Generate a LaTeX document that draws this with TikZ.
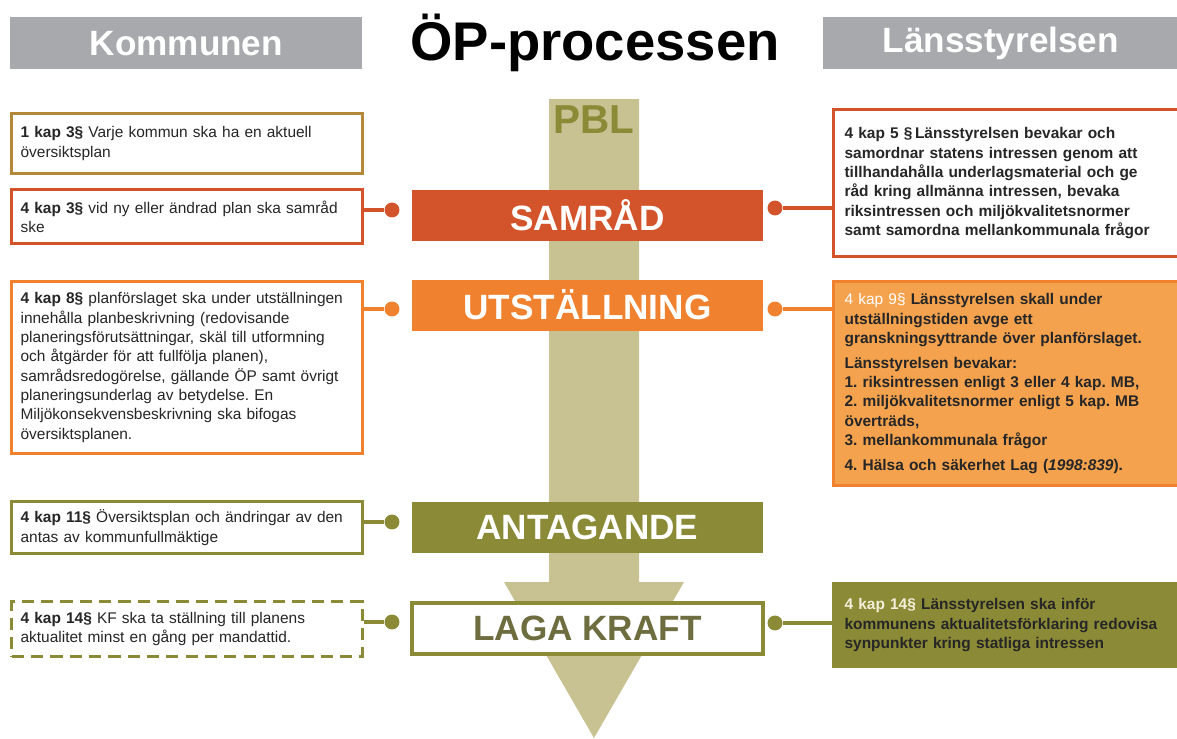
\documentclass[tikz,border=0pt]{standalone}
\usepackage{fontspec}
\setmainfont{Liberation Sans}
\frenchspacing
\usetikzlibrary{positioning}
\definecolor{greyhead}{HTML}{A7A9AC}
\definecolor{samradred}{HTML}{D3542B}
\definecolor{utstorange}{HTML}{F0812F}
\definecolor{utstlight}{HTML}{F4A24E}
\definecolor{olive}{HTML}{8B8A36}
\definecolor{olivedark}{HTML}{6E6D40}
\definecolor{khaki}{HTML}{C8C192}
\definecolor{gold}{HTML}{B38939}
\definecolor{cream}{HTML}{F3EFD8}
\definecolor{bodytext}{HTML}{262626}
\tikzset{head/.style = {fill=greyhead, text=white, font=\bfseries\fontsize{20}{24}\selectfont,
                        minimum height=1.04cm, anchor=north west}}
\tikzset{stage/.style = {text=white, font=\bfseries\fontsize{20}{24}\selectfont,
                         minimum width=7.02cm, minimum height=1.02cm}}
\tikzset{lawbox/.style = {draw, line width=1.8pt, fill=white, text=bodytext, align=left,
                          text width=6.66cm, inner xsep=0.18cm, anchor=north west,
                          font=\fontsize{8.8}{11}\selectfont}}
\tikzset{lanbox/.style = {draw, line width=1.8pt, align=left, text=bodytext,
                          text width=7cm, inner xsep=0.22cm, anchor=north west,
                          font=\bfseries\fontsize{8.8}{11}\selectfont}}
\tikzset{dot/.style = {fill, circle, inner sep = 0, minimum size = 8.5}}
\tikzset{link/.style = {line width = 2pt}}

\begin{document}
\begin{tikzpicture}[x=0.02cm, y=-0.02cm]
    \path[use as bounding box, clip] (0, 0) rectangle (1177, 738);

    % headers
    \node [head, minimum width=7.04cm] (kommunen) at (10, 17) {Kommunen};
    \node [head, minimum width=7.1cm] (lansst) at (823, 17) {Länsstyrelsen};
    \node [font=\bfseries\fontsize{31}{36}\selectfont] (title) at (595, 43) {ÖP-processen};

    % PBL arrow
    \fill [khaki] (549, 99) -- (639, 99) -- (639, 582) -- (684, 582) -- (594, 738)
                  -- (504, 582) -- (549, 582) -- cycle;
    \node [text=olive, font=\bfseries\fontsize{23}{26}\selectfont] (pbl) at (594, 120) {PBL};

    % stages
    \node [stage, fill=samradred] (samrad) at (587.5, 215.5) {SAMRÅD};
    \node [stage, fill=utstorange] (utst) at (587.5, 305) {UTSTÄLLNING};
    \node [stage, fill=olive] (antag) at (587.5, 527) {ANTAGANDE};
    \node [stage, draw=olive, line width=2.2pt, fill=white, text=olivedark] (laga) at (587.5, 628.5) {LAGA KRAFT};

    % kommunen
    \node [lawbox, draw=gold, minimum height=1.2cm] (kom1) at (10, 112)
      {\textbf{1 kap 3§} Varje kommun ska ha en aktuell\\ översiktsplan};
    \node [lawbox, draw=samradred, minimum height=1.08cm] (kom2) at (10, 188)
      {\textbf{4 kap 3§} vid ny eller ändrad plan ska samråd\\ ske};
    \node [lawbox, draw=utstorange, minimum height=3.44cm] (kom3) at (10, 280)
      {\textbf{4 kap 8§} planförslaget ska under utställningen\\
       innehålla planbeskrivning (redovisande\\
       planeringsförutsättningar, skäl till utformning\\
       och åtgärder för att fullfölja planen),\\
       samrådsredogörelse, gällande ÖP samt övrigt\\
       planeringsunderlag av betydelse. En\\
       Miljökonsekvensbeskrivning ska bifogas\\
       översiktsplanen.};
    \node [lawbox, draw=olive, minimum height=1.04cm] (kom4) at (10, 500)
      {\textbf{4 kap 11§} Översiktsplan och ändringar av den\\ antas av kommunfullmäktige};
    \node [lawbox, draw=olive, dash pattern=on 7pt off 4pt, minimum height=1.1cm] (kom5) at (10, 600)
      {\textbf{4 kap 14§} KF ska ta ställning till planens\\ aktualitet minst en gång per mandattid.};

    % länsstyrelsen
    \node [lanbox, draw=samradred, fill=white, minimum height=2.94cm] (lan1) at (832, 108)
      {4 kap 5 §\,Länsstyrelsen bevakar och\\
       samordnar statens intressen genom att\\
       tillhandahålla underlagsmaterial och ge\\
       råd kring allmänna intressen, bevaka\\
       riksintressen och miljökvalitetsnormer\\
       samt samordna mellankommunala frågor};
    \node [lanbox, draw=utstorange, fill=utstlight, minimum height=4.08cm] (lan2) at (832, 280)
      {{\mdseries\color{white}4 kap 9§} Länsstyrelsen skall under\\
       utställningstiden avge ett\\
       granskningsyttrande över planförslaget.\\[3pt]
       Länsstyrelsen bevakar:\\
       1. riksintressen enligt 3 eller 4 kap. MB,\\
       2. miljökvalitetsnormer enligt 5 kap. MB\\
       överträds,\\
       3. mellankommunala frågor\\[3pt]
       4. Hälsa och säkerhet Lag (\textit{1998:839}).};
    \node [lanbox, draw=olive, fill=olive, minimum height=1.66cm] (lan3) at (832, 582)
      {{\color{cream}4 kap 14§} Länsstyrelsen ska inför\\
       kommunens aktualitetsförklaring redovisa\\
       synpunkter kring statliga intressen};

    % connectors
    \node [dot, samradred] (samrad-l) at (392, 210) {};
    \node [dot, samradred] (samrad-r) at (775, 208) {};
    \draw [link, samradred] (samrad-l) -- (samrad-l -| kom2.east);
    \draw [link, samradred] (samrad-r) -- (samrad-r -| lan1.west);

    \node [dot, utstorange] (utst-l) at (392, 309) {};
    \node [dot, utstorange] (utst-r) at (775, 309) {};
    \draw [link, utstorange] (utst-l) -- (utst-l -| kom3.east);
    \draw [link, utstorange] (utst-r) -- (utst-r -| lan2.west);

    \node [dot, olive] (antag-l) at (392, 522) {};
    \draw [link, olive] (antag-l) -- (antag-l -| kom4.east);

    \node [dot, olive] (laga-l) at (392, 622) {};
    \node [dot, olive] (laga-r) at (775, 623) {};
    \draw [link, olive] (laga-l) -- (laga-l -| kom5.east);
    \draw [link, olive] (laga-r) -- (laga-r -| lan3.west);
\end{tikzpicture}
\end{document}
